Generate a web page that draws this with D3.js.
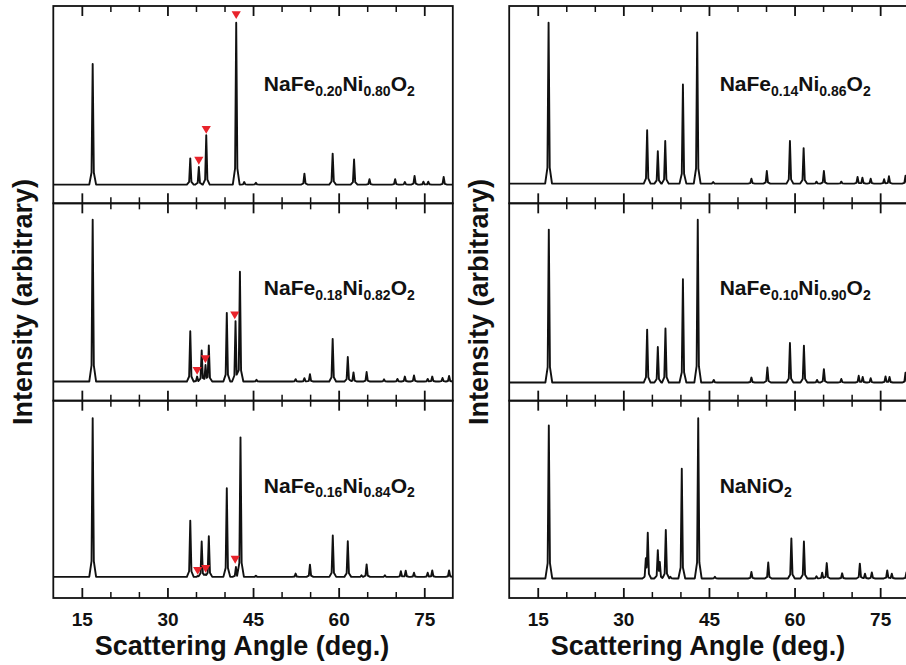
<!DOCTYPE html>
<html>
<head>
<meta charset="utf-8">
<script src="https://cdn.jsdelivr.net/npm/d3@7"></script>
<style>
  html, body { margin: 0; padding: 0; background: #fff; overflow: hidden; }
  svg { display: block; }
  text { font-family: "Liberation Sans", Arial, Helvetica, sans-serif; font-weight: bold; fill: #111; }
</style>
</head>
<body>
<svg id="chart" width="906" height="665"></svg>
<script>
// ---- Diffraction data: [2-theta (deg), peak-top intensity (arbitrary)] ----
const peaksFe20 = [[16.9,70.6],[34.0,22.8],[35.5,18.4],[36.8,34.5],[42.05,91.5],[43.45,10.8],[45.5,10.4],
  [54.0,15.0],[58.95,25.2],[62.7,22.2],[65.4,12.2],[69.9,12.2],[71.6,10.8],[73.3,13.9],[74.85,11.0],[75.7,11.0],[78.4,13.4]];
const peaksFe18 = [[16.9,91.7],[34.0,35.2],[35.2,12.2],[36.0,25.5],[36.67,18.0],[37.25,28.0],[40.4,44.5],[41.93,40.3],
  [42.7,65.3],[45.6,10.6],[52.46,10.9],[54.0,11.4],[54.97,13.4],[58.95,31.3],[61.6,22.1],[62.6,14.3],[64.9,14.5],
  [67.95,10.8],[70.3,11.0],[71.6,12.2],[73.2,12.8],[75.6,11.0],[76.4,12.2],[78.2,11.5],[79.35,12.5]];
const peaksFe16 = [[16.9,91.1],[34.0,39.2],[35.3,11.2],[36.0,28.6],[36.6,12.0],[37.25,31.3],[40.4,55.6],[42.0,15.7],
  [42.8,81.4],[45.5,11.3],[52.46,12.4],[54.97,16.9],[58.97,31.7],[61.6,28.8],[64.0,11.5],[64.9,17.0],[68.1,11.5],
  [70.9,13.6],[71.75,13.8],[73.2,12.8],[75.6,12.8],[76.4,14.0],[79.35,14.0]];
const peaksFe14 = [[16.9,91.5],[34.17,37.0],[36.04,26.4],[37.34,31.6],[40.44,60.2],[42.94,86.6],[45.74,10.8],
  [52.44,12.5],[55.14,16.4],[59.19,31.6],[61.59,28.0],[63.84,11.0],[65.14,16.4],[68.19,11.0],[71.04,13.4],
  [71.89,13.0],[73.34,12.5],[75.69,12.2],[76.54,13.7],[79.44,14.0]];
const peaksFe10 = [[16.94,86.7],[34.17,36.0],[36.04,27.2],[37.38,36.6],[40.44,61.6],[43.04,91.7],[45.84,10.5],
  [52.44,11.7],[55.24,16.8],[59.19,29.2],[61.64,27.9],[63.94,10.5],[65.14,16.0],[68.19,11.0],[71.24,12.6],
  [71.94,12.0],[73.34,11.4],[75.94,12.3],[76.64,12.0],[79.44,14.2]];
const peaksNaNiO2 = [[16.94,87.4],[33.94,18.7],[34.28,32.5],[36.04,23.8],[36.39,17.4],[37.44,34.5],[38.24,10.8],
  [40.24,65.5],[43.12,91.1],[46.04,10.8],[52.44,13.2],[55.39,18.0],[59.44,30.2],[61.64,28.6],[63.84,11.0],
  [64.84,12.8],[65.64,17.7],[68.34,12.5],[71.44,17.4],[72.34,12.3],[73.54,13.0],[76.24,14.0],[77.04,12.3],[79.6,13.0]];

// Background level of each pattern
const baselines = [9.5, 9.7, 10.7, 10.0, 9.2, 9.9];

// Impurity reflections marked with red triangles: [2-theta, tip intensity]
const markersFe20 = [[35.5,19.6],[36.8,35.2],[42.05,93.4]];
const markersFe18 = [[35.2,13.1],[36.65,19.0],[41.8,41.2]];
const markersFe16 = [[35.3,11.8],[36.7,12.8],[41.87,17.4]];

// Sample names (text inside braces is drawn as a subscript)
const sampleNames = ["NaFe{0.20}Ni{0.80}O{2}", "NaFe{0.18}Ni{0.82}O{2}", "NaFe{0.16}Ni{0.84}O{2}",
                     "NaFe{0.14}Ni{0.86}O{2}", "NaFe{0.10}Ni{0.90}O{2}", "NaNiO{2}"];

const majorTicks = [15, 30, 45, 60, 75];
const minorTicks = [20, 25, 35, 40, 50, 55, 65, 70];
const xDomain = [10, 80];
const yDomain = [0, 100];
const xTitle = "Scattering Angle (deg.)";
const yTitle = "Intensity (arbitrary)";

// ---- Layout ----
const svg = d3.select("#chart");
const columnLeft = [53.3, 509.2];
const plotWidth = 399.5;
const plotTop = 6, plotBottom = 598;
const rowHeight = (plotBottom - plotTop) / 3;
const labelDy = [85, 92, 92];

const panels = [
  { col: 0, row: 0, peaks: peaksFe20, base: baselines[0], markers: markersFe20, name: sampleNames[0] },
  { col: 0, row: 1, peaks: peaksFe18, base: baselines[1], markers: markersFe18, name: sampleNames[1] },
  { col: 0, row: 2, peaks: peaksFe16, base: baselines[2], markers: markersFe16, name: sampleNames[2] },
  { col: 1, row: 0, peaks: peaksFe14, base: baselines[3], markers: [], name: sampleNames[3] },
  { col: 1, row: 1, peaks: peaksFe10, base: baselines[4], markers: [], name: sampleNames[4] },
  { col: 1, row: 2, peaks: peaksNaNiO2, base: baselines[5], markers: [], name: sampleNames[5] }
];

// Peak profile: piecewise-linear spike with a slightly broadened foot
const profileDx = [-0.6, -0.2, 0, 0.2, 0.6];
const profileFrac = [0, 0.1, 1, 0.1, 0];
function profile(d) {
  if (d <= profileDx[0] || d >= profileDx[profileDx.length - 1]) return 0;
  for (let i = 0; i < profileDx.length - 1; i++) {
    if (d >= profileDx[i] && d <= profileDx[i + 1]) {
      const t = (d - profileDx[i]) / (profileDx[i + 1] - profileDx[i]);
      return profileFrac[i] + t * (profileFrac[i + 1] - profileFrac[i]);
    }
  }
  return 0;
}

function traceVertices(peaks, base) {
  const xs = new Set(xDomain);
  peaks.forEach(([pos]) => profileDx.forEach(dx => {
    const v = +(pos + dx).toFixed(4);
    if (v > xDomain[0] && v < xDomain[1]) xs.add(v);
  }));
  return Array.from(xs).sort((a, b) => a - b).map(x => {
    let y = base;
    peaks.forEach(([pos, top]) => { y += (top - base) * profile(x - pos); });
    return [x, y];
  });
}

const defs = svg.append("defs");

panels.forEach((p, i) => {
  const x0 = columnLeft[p.col];
  const y0 = plotTop + p.row * rowHeight;
  const y1 = y0 + rowHeight;
  const x = d3.scaleLinear().domain(xDomain).range([x0, x0 + plotWidth]);
  const y = d3.scaleLinear().domain(yDomain).range([y1, y0]);

  defs.append("clipPath").attr("id", "clip" + i)
    .append("rect").attr("x", x0).attr("y", y0).attr("width", plotWidth).attr("height", rowHeight);

  const g = svg.append("g");

  // pattern trace
  const line = d3.line().x(d => x(d[0])).y(d => y(d[1]));
  g.append("path")
    .attr("clip-path", `url(#clip${i})`)
    .attr("d", line(traceVertices(p.peaks, p.base)))
    .attr("fill", "none").attr("stroke", "#111").attr("stroke-width", 1.9)
    .attr("stroke-linejoin", "round");

  // impurity markers
  g.selectAll("path.marker").data(p.markers).join("path")
    .attr("class", "marker")
    .attr("d", "M-4.6,-7.8L4.6,-7.8L0,0Z")
    .attr("transform", d => `translate(${x(d[0])},${y(d[1])})`)
    .attr("fill", "#e8232b");

  // frame
  g.append("rect").attr("x", x0).attr("y", y0).attr("width", plotWidth).attr("height", rowHeight)
    .attr("fill", "none").attr("stroke", "#111").attr("stroke-width", 1.8);

  // inward ticks on top and bottom edges
  const showLabels = p.row === 2;
  const axes = [
    g.append("g").attr("transform", `translate(0,${y1})`)
      .call(d3.axisBottom(x).tickValues(majorTicks).tickSize(-10).tickPadding(15)
        .tickFormat(showLabels ? d3.format("d") : () => "")),
    g.append("g").attr("transform", `translate(0,${y1})`)
      .call(d3.axisBottom(x).tickValues(minorTicks).tickSize(-6).tickFormat(() => "")),
    g.append("g").attr("transform", `translate(0,${y0})`)
      .call(d3.axisTop(x).tickValues(majorTicks).tickSize(-10).tickFormat(() => "")),
    g.append("g").attr("transform", `translate(0,${y0})`)
      .call(d3.axisTop(x).tickValues(minorTicks).tickSize(-6).tickFormat(() => ""))
  ];
  axes.forEach((a, k) => {
    a.select(".domain").remove();
    a.selectAll(".tick line").attr("stroke", "#111").attr("stroke-width", k % 2 === 0 ? 1.8 : 1.5);
    a.selectAll(".tick text").attr("fill", "#111").style("font-size", "19px")
      .style("font-family", '"Liberation Sans", Arial, sans-serif').style("font-weight", "bold");
  });

  // sample name with subscripts
  const label = g.append("text")
    .attr("x", x0 + 210.5).attr("y", y0 + labelDy[p.row])
    .style("font-size", "21px");
  p.name.split(/\{([^}]*)\}/).forEach((part, k) => {
    if (!part) return;
    const sub = k % 2 === 1;
    label.append("tspan").text(part)
      .attr("dy", sub ? 4.5 : (k > 0 ? -4.5 : 0))
      .style("font-size", sub ? "14px" : "21px");
  });
});

// axis titles
columnLeft.forEach(x0 => {
  svg.append("text")
    .attr("x", x0 + plotWidth / 2 - 11).attr("y", 655)
    .attr("text-anchor", "middle").style("font-size", "27px")
    .text(xTitle);
  svg.append("text")
    .attr("transform", `translate(${x0 - 21},${(plotTop + plotBottom) / 2}) rotate(-90)`)
    .attr("text-anchor", "middle").style("font-size", "27px")
    .text(yTitle);
});
</script>
</body>
</html>
